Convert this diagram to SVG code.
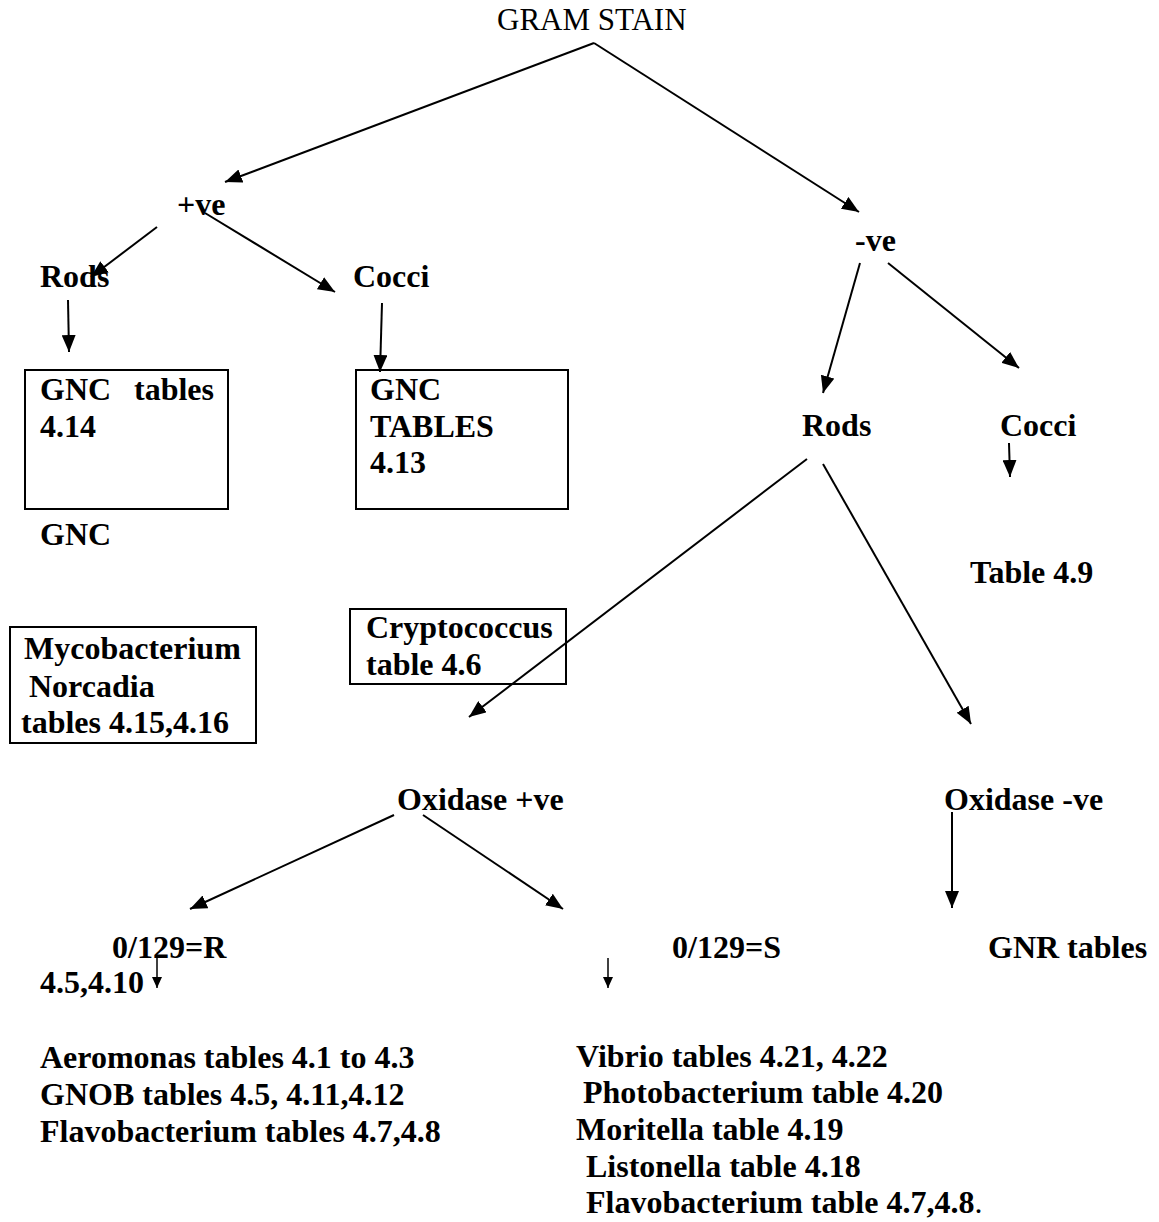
<svg xmlns="http://www.w3.org/2000/svg" width="1159" height="1222" viewBox="0 0 1159 1222">
<style>
.t{font-family:"Liberation Serif","Times New Roman",serif;font-size:32px;font-weight:bold;fill:#000}
.title{font-family:"Liberation Serif","Times New Roman",serif;font-size:31px;font-weight:normal;fill:#000}
.box{fill:none;stroke:#000;stroke-width:2}
.c line{stroke:#000;stroke-width:2}
.c .a{marker-end:url(#ah)}
.c .s{stroke-width:1.5;marker-end:url(#sh)}
</style>
<defs>
<marker id="ah" markerUnits="userSpaceOnUse" markerWidth="18" markerHeight="14" refX="17" refY="7" orient="auto">
<path d="M0,0 L17,7 L0,14 z" fill="#000"/>
</marker>
<marker id="sh" markerUnits="userSpaceOnUse" markerWidth="12" markerHeight="10" refX="11" refY="5" orient="auto">
<path d="M0,0 L11,5 L0,10 z" fill="#000"/>
</marker>
</defs>
<rect width="1159" height="1222" fill="#fff"/>
<g class="c" id="connectors">
<line class="a" x1="594" y1="43" x2="225" y2="182"/>
<line class="a" x1="594" y1="43" x2="859" y2="212"/>
<line class="a" x1="157" y1="227" x2="91" y2="277"/>
<line class="a" x1="205" y1="213" x2="335" y2="292"/>
<line class="a" x1="68" y1="300" x2="69" y2="352"/>
<line class="a" x1="382" y1="303" x2="380" y2="372"/>
<line class="a" x1="860" y1="263" x2="823" y2="393"/>
<line class="a" x1="888" y1="263" x2="1019" y2="368"/>
<line class="a" x1="1009" y1="443" x2="1010" y2="477"/>
<line class="a" x1="807" y1="459" x2="469" y2="717"/>
<line class="a" x1="823" y1="464" x2="971" y2="724"/>
<line class="a" x1="394" y1="815" x2="190" y2="909"/>
<line class="a" x1="423" y1="815" x2="563" y2="909"/>
<line class="a" x1="952" y1="812" x2="952" y2="908"/>
<line class="s" x1="157" y1="958" x2="157" y2="988"/>
<line class="s" x1="608" y1="958" x2="608" y2="988"/>
</g>
<g id="gram-stain"><text class="title" x="497" y="30">GRAM STAIN</text></g>
<g id="pos"><text class="t" x="177" y="215">+ve</text></g>
<g id="neg"><text class="t" x="855" y="251">-ve</text></g>
<g id="pos-rods"><text class="t" x="40" y="287">Rods</text></g>
<g id="pos-cocci"><text class="t" x="353" y="287">Cocci</text></g>
<g id="box-gnc-414">
<rect class="box" x="25" y="370" width="203" height="139"/>
<text class="t" y="400"><tspan x="40">GNC</tspan><tspan x="134">tables</tspan></text>
<text class="t" x="40" y="437">4.14</text>
</g>
<g id="box-gnc-413">
<rect class="box" x="356" y="370" width="212" height="139"/>
<text class="t" x="370" y="400">GNC</text>
<text class="t" x="370" y="437">TABLES</text>
<text class="t" x="370" y="473">4.13</text>
</g>
<g id="gnc"><text class="t" x="40" y="545">GNC</text></g>
<g id="neg-rods"><text class="t" x="802" y="436">Rods</text></g>
<g id="neg-cocci"><text class="t" x="1000" y="436">Cocci</text></g>
<g id="table-49"><text class="t" x="970" y="583">Table 4.9</text></g>
<g id="box-myco">
<rect class="box" x="10" y="627" width="246" height="116"/>
<text class="t" x="24" y="659">Mycobacterium</text>
<text class="t" x="29" y="697">Norcadia</text>
<text class="t" x="21" y="733">tables 4.15,4.16</text>
</g>
<g id="box-crypto">
<rect class="box" x="350" y="609" width="216" height="75"/>
<text class="t" x="366" y="638">Cryptococcus</text>
<text class="t" x="366" y="675">table 4.6</text>
</g>
<g id="oxidase-pos"><text class="t" x="397" y="810">Oxidase +ve</text></g>
<g id="oxidase-neg"><text class="t" x="944" y="810">Oxidase -ve</text></g>
<g id="o129r">
<text class="t" x="112" y="958">0/129=R</text>
<text class="t" x="40" y="993">4.5,4.10</text>
</g>
<g id="o129s"><text class="t" x="672" y="958">0/129=S</text></g>
<g id="gnr"><text class="t" x="988" y="958">GNR tables</text></g>
<g id="list-r">
<text class="t" x="40" y="1068">Aeromonas tables 4.1 to 4.3</text>
<text class="t" x="40" y="1105">GNOB tables 4.5, 4.11,4.12</text>
<text class="t" x="40" y="1142">Flavobacterium tables 4.7,4.8</text>
</g>
<g id="list-s">
<text class="t" x="576" y="1067">Vibrio tables 4.21, 4.22</text>
<text class="t" x="583" y="1103">Photobacterium table 4.20</text>
<text class="t" x="576" y="1140">Moritella table 4.19</text>
<text class="t" x="586" y="1177">Listonella table 4.18</text>
<text class="t" x="586" y="1213">Flavobacterium table 4.7,4.8<tspan font-weight="normal">.</tspan></text>
</g>
</svg>
